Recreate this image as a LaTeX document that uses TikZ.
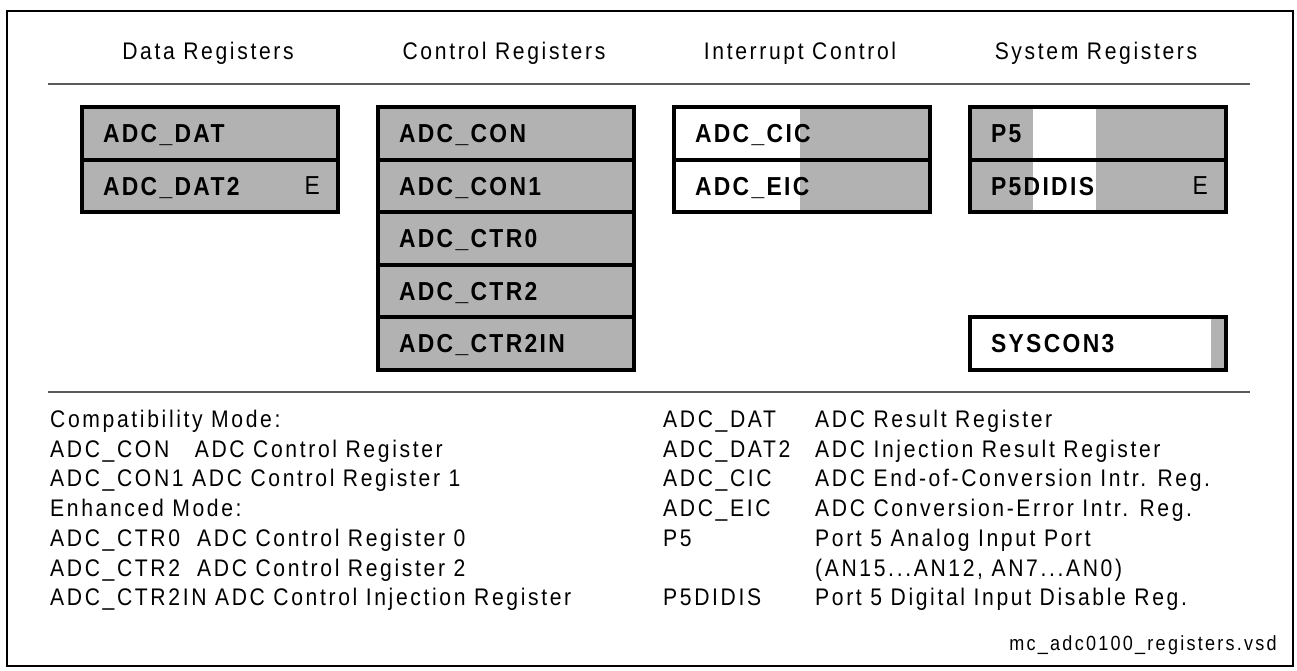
\documentclass[tikz,border=0pt]{standalone}
\usepackage{fontspec}
\setmainfont{Liberation Sans}[FakeStretch=0.88,LetterSpace=11]
\newfontfamily\regfont{Liberation Sans}[FakeStretch=0.88,LetterSpace=9]
\usetikzlibrary{positioning}
\definecolor{reggray}{RGB}{178,178,178}
\definecolor{rulegray}{RGB}{90,90,90}
\tikzset{
  regrow/.style={draw, line width=4pt, minimum height=52.5pt, minimum width=256pt,
    text width=214pt, inner xsep=21pt, inner ysep=0pt, align=left, anchor=north west,
    text height=18.5pt, text depth=0pt, font=\regfont\bfseries\fontsize{26}{30}\selectfont},
  grayrow/.style={regrow, fill=reggray},
  hdr/.style={font=\fontsize{24}{28}\selectfont},
  flag/.style={anchor=east, inner sep=0pt, xshift=-20pt, font=\fontsize{26}{30}\selectfont},
  lgd/.style={anchor=base west, inner sep=0pt, font=\fontsize{24}{28}\selectfont},
  rulerline/.style={draw=rulegray, line width=1.2pt}
}
\begin{document}
\begin{tikzpicture}[x=1pt,y=-1pt]
  \useasboundingbox (0,0) rectangle (1297,670);
  \draw[line width=2.5pt] (7,11) rectangle (1293,666);
  % headers
  \node[hdr] (hdata) at (208,53) {Data Registers};
  \node[hdr] (hctrl) at (504,53) {Control Registers};
  \node[hdr] (hintr) at (800,53) {Interrupt Control};
  \node[hdr] (hsys)  at (1096,53) {System Registers};
  \coordinate (topl) at (48,84);
  \coordinate (topr) at (1250,84);
  \draw[rulerline] (topl) -- (topr);
  % data registers
  \node[grayrow] (dat)  at (80,105)   {ADC\_DAT};
  \node[grayrow] (dat2) at (80,157.5) {ADC\_DAT2};
  \node[flag] at (dat2.east) {E};
  % control registers
  \node[grayrow] (con)    at (376,105)   {ADC\_CON};
  \node[grayrow] (con1)   at (376,157.5) {ADC\_CON1};
  \node[grayrow] (ctr0)   at (376,210)   {ADC\_CTR0};
  \node[grayrow] (ctr2)   at (376,262.5) {ADC\_CTR2};
  \node[grayrow] (ctr2in) at (376,315)   {ADC\_CTR2IN};
  % interrupt control
  \fill[white]   (672,105) rectangle (800,210);
  \fill[reggray] (800,105) rectangle (928,210);
  \node[regrow] (cic) at (672,105)   {ADC\_CIC};
  \node[regrow] (eic) at (672,157.5) {ADC\_EIC};
  % system registers
  \fill[reggray] (968,105) rectangle (1033,210);
  \fill[reggray] (1096,105) rectangle (1224,210);
  \node[regrow] (pfive)  at (968,105)   {P5};
  \node[regrow] (didis)  at (968,157.5) {P5DIDIS};
  \node[flag] at (didis.east) {E};
  \fill[reggray] (1211,315) rectangle (1224,367.5);
  \node[regrow] (syscon) at (968,315) {SYSCON3};
  \coordinate (midl) at (48,392);
  \coordinate (midr) at (1250,392);
  \draw[rulerline] (midl) -- (midr);
  % legend, left
  \node[lgd] (l1) at (50,427.5) {Compatibility Mode:};
  \node[lgd] (l2) at (50,457.2) {ADC\_CON\ \ \ ADC Control Register};
  \node[lgd] (l3) at (50,486.9) {ADC\_CON1 ADC Control Register 1};
  \node[lgd] (l4) at (50,516.6) {Enhanced Mode:};
  \node[lgd] (l5) at (50,546.3) {ADC\_CTR0\ \ ADC Control Register 0};
  \node[lgd] (l6) at (50,576.0) {ADC\_CTR2\ \ ADC Control Register 2};
  \node[lgd] (l7) at (50,605.7) {ADC\_CTR2IN ADC Control Injection Register};
  % legend, right
  \node[lgd] (r1) at (663,427.5) {ADC\_DAT};
  \node[lgd] (r2) at (663,457.2) {ADC\_DAT2};
  \node[lgd] (r3) at (663,486.9) {ADC\_CIC};
  \node[lgd] (r4) at (663,516.6) {ADC\_EIC};
  \node[lgd] (r5) at (663,546.3) {P5};
  \node[lgd] (r7) at (663,605.7) {P5DIDIS};
  \node[lgd] (d1) at (815,427.5) {ADC Result Register};
  \node[lgd] (d2) at (815,457.2) {ADC Injection Result Register};
  \node[lgd] (d3) at (815,486.9) {ADC End-of-Conversion Intr. Reg.};
  \node[lgd] (d4) at (815,516.6) {ADC Conversion-Error Intr. Reg.};
  \node[lgd] (d5) at (815,546.3) {Port 5 Analog Input Port};
  \node[lgd] (d6) at (815,576.0) {(AN15...AN12, AN7...AN0)};
  \node[lgd] (d7) at (815,605.7) {Port 5 Digital Input Disable Reg.};
  \node[anchor=east, inner sep=0pt, font=\fontsize{20.5}{24}\selectfont] (file) at (1277,645) {mc\_adc0100\_registers.vsd};
\end{tikzpicture}
\end{document}
